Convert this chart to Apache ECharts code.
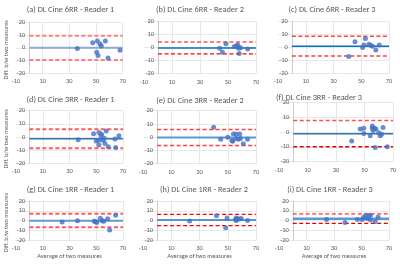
<!DOCTYPE html>
<html><head><meta charset="utf-8">
<script src="https://cdn.jsdelivr.net/npm/echarts@6/dist/echarts.min.js"></script>
<style>html,body{margin:0;padding:0;background:#fff}#c{width:400px;height:269px}</style>
</head><body><div id="c"></div>
<script>
// ---- data ----
const titles = ['(a) DL Cine 6RR - Reader 1','(b) DL Cine 6RR - Reader 2','(c) DL Cine 6RR - Reader 3',
  '(d) DL Cine 3RR - Reader 1','(e) DL Cine 3RR - Reader 2','(f) DL Cine 3RR - Reader 3',
  '(g) DL Cine 1RR - Reader 1','(h) DL Cine 1RR - Reader 2','(i) DL Cine 1RR - Reader 3'];
const xTicks = [-10, 10, 30, 50, 70];
const yTicks = [-20, -10, 0, 10, 20];
const avgA = [36, 47.5, 51, 53, 54, 57, 50.5, 51.5, 59, 68];
const diffA = [-0.5, 4, 5.5, 3, 1.5, 5.5, -3.5, -6, -8, -2];
const avgB = [44, 46, 48.5, 54.5, 56, 57, 57.5, 58, 59, 64];
const diffB = [-0.5, -3.5, 3, 1, 1.5, 2, -0.5, -4.5, 0, -1];
const avgC = [41, 45.5, 51, 52, 53, 55.5, 57, 58, 60.5, 63];
const diffC = [-7, 4.5, 0, 2, 7, 2.5, 1.5, 1, -2, 2];
const avgD = [36.5, 48, 50, 52, 52, 52, 53.5, 54, 55, 56, 56.5, 57.5, 59, 64, 64.5, 67];
const diffD = [-2, 2.5, -3, -2.5, 3.5, -6, 1, 2, -2.5, -1, -5, 4.5, -7.5, -1.5, -8, 1];
const avgE = [40, 45, 50, 53, 53.5, 54, 56, 56, 57.5, 58.5, 59, 61, 64];
const diffE = [7.5, -1.5, 0, -2.5, -3, 2.5, 2.5, -1, -1.5, 2.5, -1, -5, -1.5];
const avgF = [41, 47, 49.5, 49.5, 54, 55.5, 55.5, 56, 57, 57.5, 58, 60, 61, 62, 63, 66];
const diffF = [-6, 2, 2.5, -1, -2.5, 4, 2.5, 1, 2.5, -10.5, 2, -0.5, -2.5, -1.5, 3, -10];
const avgG = [24.5, 36, 48.5, 49.5, 50.5, 53, 54.5, 55.5, 58.5, 60, 64.5];
const diffG = [-1.5, 0, -0.5, -1, -2, 2.5, 0, -0.5, 2, -9.5, 5.5];
const avgH = [23, 42, 48.5, 49.5, 55.5, 56, 56, 57, 58, 59.5, 64];
const diffH = [-0.5, 5, -7.5, 2.5, 1, 2.5, 0, 1.5, 1.5, 2, 0];
const avgI = [24.5, 38, 47, 50.5, 51.5, 53, 54, 55.5, 56.5, 56.5, 60, 62];
const diffI = [1, -2, 1, 1, 3, 5.5, 2, 5, 0.5, 5.5, -1, 3.5];
const meanDiff = [0, -0.2, 1, -1.3, -0.3, -1.2, 0, 0.5, 1.9];
const upperLoA = [9.6, 4.4, 8.7, 5.8, 5.8, 7.8, 7.1, 6.3, 6.7];
const lowerLoA = [-9.6, -4.8, -6.6, -8.6, -6.3, -10, -6.8, -5.3, -3];
const lineFrom = 0, lineTo = 70;

// ---- layout / style ----
const avgs = [avgA, avgB, avgC, avgD, avgE, avgF, avgG, avgH, avgI];
const diffs = [diffA, diffB, diffC, diffD, diffE, diffF, diffG, diffH, diffI];
const grids = [
  {left:16, top:22.7, width:106.7, height:50.3},
  {left:144, top:21.7, width:112, height:52},
  {left:278, top:21.7, width:111, height:51.6},
  {left:16, top:110.7, width:107, height:52.6},
  {left:143, top:110.7, width:113, height:53},
  {left:279, top:102.3, width:114, height:59.4},
  {left:16, top:201, width:107, height:39.3},
  {left:143, top:201, width:113, height:39},
  {left:279, top:201, width:110, height:39}
];
const titlePos = [[70.5,10],[200,10],[332,10],[70.5,100],[200,101],[319,97.5],[70.5,190],[204,190],[330,190]];
const meanStyle = [
  {c:'#8FAADC',w:2},{c:'#0070C0',w:1.5},{c:'#0070C0',w:1.5},
  {c:'#2E75B6',w:1.5},{c:'#5B9BD5',w:2},{c:'#2E75B6',w:1.5},
  {c:'#5B9BD5',w:2},{c:'#2E75B6',w:1.5},{c:'#5B9BD5',w:2.5}];
const upStyle = [
  {c:'#FF7C80',w:2},{c:'#FF0000',w:1.2},{c:'#FF4040',w:1.5},
  {c:'#FF5A5A',w:2},{c:'#FF4040',w:1.5},{c:'#FF5050',w:1.5},
  {c:'#FF5A5A',w:2},{c:'#FF0000',w:1.2},{c:'#FF3030',w:1.3}];
const loStyle = [
  {c:'#FF7C80',w:2},{c:'#FF0000',w:1.2},{c:'#FF4040',w:1.5},
  {c:'#FF5A5A',w:2},{c:'#FF4040',w:1.5},{c:'#E00000',w:1.5},
  {c:'#FF5A5A',w:2},{c:'#FF0000',w:1.2},{c:'#E00000',w:1.3}];
const txt = '#595959', gridCol = '#D9D9D9';
const FONT = 'Calibri, "Liberation Sans", "DejaVu Sans", sans-serif';

const option = {backgroundColor:'#fff', animation:false, grid:[], xAxis:[], yAxis:[], series:[], graphic:[]};
for (let i = 0; i < 9; i++) {
  const xMin = xTicks[0], xMax = xTicks[xTicks.length-1];
  option.grid.push(Object.assign({containLabel:false}, grids[i]));
  option.xAxis.push({type:'value', gridIndex:i, min:xMin, max:xMax, interval:xTicks[1]-xTicks[0],
    axisLine:{show:false, onZero:false}, axisTick:{show:false},
    axisLabel:{fontSize:6.5, color:txt, margin:5, fontFamily:FONT},
    splitLine:{show:true, showMinLine:false, lineStyle:{color:gridCol, width:0.6}}});
  // y axis sits at x = 0 (shifted right from the grid's left edge)
  const yOffset = -grids[i].width * (0 - xMin) / (xMax - xMin);
  option.yAxis.push({type:'value', gridIndex:i, min:yTicks[0], max:yTicks[yTicks.length-1], interval:yTicks[1]-yTicks[0],
    offset:yOffset,
    axisLine:{show:true, onZero:false, lineStyle:{color:'#BFBFBF', width:0.8}}, axisTick:{show:false},
    axisLabel:{fontSize:6.5, color:txt, margin:4, fontFamily:FONT},
    splitLine:{show:true, lineStyle:{color:gridCol, width:0.6}}});
  const mk = (v, st, dashed) => ({type:'line', xAxisIndex:i, yAxisIndex:i, symbol:'none', silent:true,
    data:[[lineFrom, v],[lineTo, v]], lineStyle:{color:st.c, width:st.w, type: dashed ? [4,2.5] : 'solid'}, z:2});
  option.series.push(mk(meanDiff[i], meanStyle[i], false));
  option.series.push(mk(upperLoA[i], upStyle[i], true));
  option.series.push(mk(lowerLoA[i], loStyle[i], true));
  option.series.push({type:'scatter', xAxisIndex:i, yAxisIndex:i, symbolSize:5,
    itemStyle:{color:'#4472C4'}, data: avgs[i].map((x, k) => [x, diffs[i][k]]), z:5});
  option.graphic.push({type:'text', x:titlePos[i][0], y:titlePos[i][1],
    style:{text:titles[i], fill:txt, font:'8.3px ' + FONT, textAlign:'center', textVerticalAlign:'middle'}});
}
[0,3,6].forEach(i => {
  option.graphic.push({type:'text', x:6, y:grids[i].top + grids[i].height/2 + 2, rotation:Math.PI/2,
    style:{text:'Diff. b/w two measures', fill:txt, font:'6.3px ' + FONT, textAlign:'center', textVerticalAlign:'middle'}});
});
[6,7,8].forEach(i => {
  option.graphic.push({type:'text', x:grids[i].left + grids[i].width/2, y:256,
    style:{text:'Average of two measures', fill:txt, font:'6.3px ' + FONT, textAlign:'center', textVerticalAlign:'middle'}});
});
const chart = echarts.init(document.getElementById('c'), null, {renderer:'canvas'});
chart.setOption(option);
</script></body></html>
